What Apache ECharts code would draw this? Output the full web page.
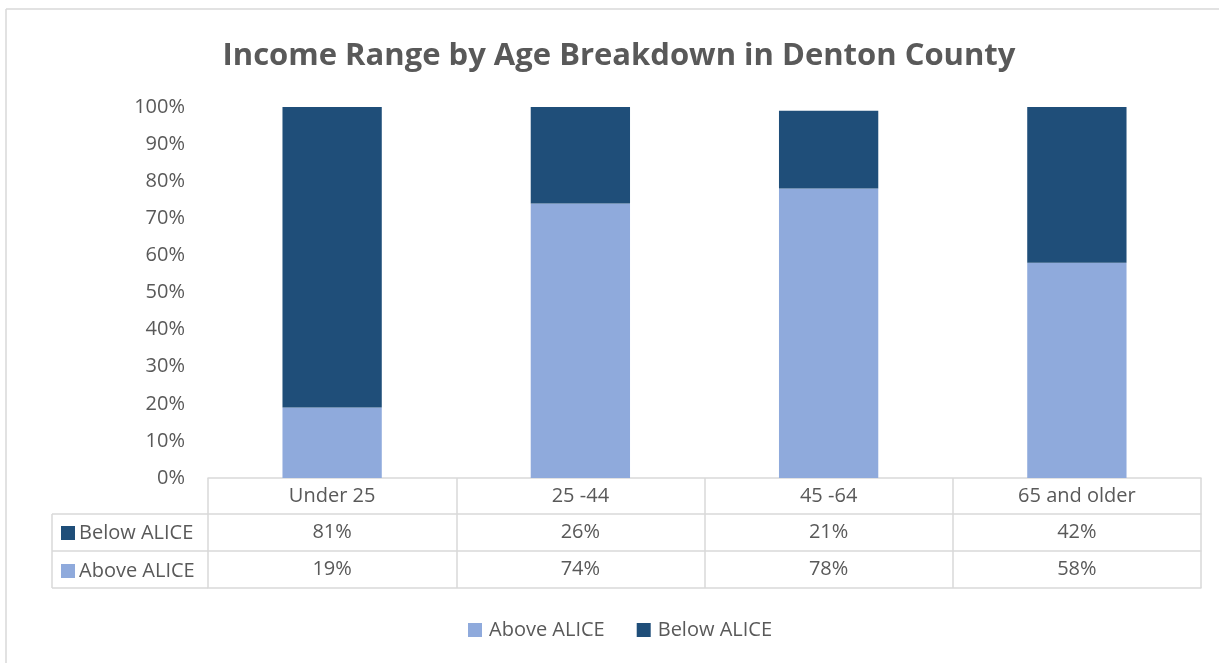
<!DOCTYPE html>
<html>
<head>
<meta charset="utf-8">
<script src="https://cdn.jsdelivr.net/npm/echarts@6/dist/echarts.min.js"></script>
<style>
html,body{margin:0;padding:0;background:#fff;}
#chart{width:1219px;height:663px;}
</style>
</head>
<body>
<div id="chart"></div>
<script>
const categories = ['Under 25', '25 -44', '45 -64', '65 and older'];
const aboveAlice = [19, 74, 78, 58];
const belowAlice = [81, 26, 21, 42];
const yTicks = [0, 10, 20, 30, 40, 50, 60, 70, 80, 90, 100];

const FONT = '"Open Sans", sans-serif';
const FS = 20;
const TXT = '#595959';
const LINE = '#D9D9D9';
const C_ABOVE = '#8FAADC';
const C_BELOW = '#1F4E79';

const chart = echarts.init(document.getElementById('chart'));

const gridLeft = 208, gridRight = 1219 - 1201, gridTop = 107, gridBottom = 663 - 478;

function tableAxis(offset, tickLen, labelFn, showLabel) {
  return {
    type: 'category',
    data: categories,
    position: 'bottom',
    offset: offset,
    gridIndex: 0,
    axisLine: { show: true, lineStyle: { color: LINE, width: 1.5 } },
    axisTick: { show: tickLen > 0, length: tickLen, alignWithLabel: false, lineStyle: { color: LINE, width: 1.5 } },
    axisLabel: {
      show: showLabel,
      color: TXT, fontFamily: FONT, fontSize: FS,
      margin: 8,
      formatter: labelFn
    },
    splitLine: { show: false }
  };
}

const option = {
  backgroundColor: '#fff',
  animation: false,
  title: {
    text: 'Income Range by Age Breakdown in Denton County',
    left: 614, top: 36, textAlign: 'center',
    textStyle: { color: TXT, fontFamily: FONT, fontWeight: 'bold', fontSize: 31 }
  },
  legend: {
    data: ['Above ALICE', 'Below ALICE'],
    top: 615, left: 463,
    itemWidth: 14, itemHeight: 14, itemGap: 32,
    icon: 'rect',
    textStyle: { color: TXT, fontFamily: FONT, fontSize: FS, padding: [0, 0, 0, 2] }
  },
  grid: { left: gridLeft, right: gridRight, top: gridTop, bottom: gridBottom, containLabel: false },
  xAxis: [
    tableAxis(0, 36, v => v, true),
    tableAxis(36, 37, (v, i) => belowAlice[i] + '%', true),
    tableAxis(73, 37, (v, i) => aboveAlice[i] + '%', true),
    tableAxis(110, 0, v => '', false)
  ],
  yAxis: {
    type: 'value', min: 0, max: 100, interval: 10,
    axisLine: { show: false }, axisTick: { show: false },
    splitLine: { show: false },
    axisLabel: { color: TXT, fontFamily: FONT, fontSize: FS, margin: 23, padding: [5, 0, 0, 0], formatter: '{value}%' }
  },
  series: [
    { name: 'Above ALICE', type: 'bar', stack: 'a', xAxisIndex: 0, barWidth: '40%', data: aboveAlice, itemStyle: { color: C_ABOVE } },
    { name: 'Below ALICE', type: 'bar', stack: 'a', xAxisIndex: 0, barWidth: '40%', data: belowAlice, itemStyle: { color: C_BELOW } }
  ],
  graphic: [
    { type: 'line', shape: { x1: 6, y1: 9, x2: 1219, y2: 9 }, style: { stroke: LINE, lineWidth: 1.5 } },
    { type: 'line', shape: { x1: 6, y1: 9, x2: 6, y2: 663 }, style: { stroke: LINE, lineWidth: 1.5 } },
    { type: 'line', shape: { x1: 52, y1: 514, x2: 208, y2: 514 }, style: { stroke: LINE, lineWidth: 1.5 } },
    { type: 'line', shape: { x1: 52, y1: 551, x2: 208, y2: 551 }, style: { stroke: LINE, lineWidth: 1.5 } },
    { type: 'line', shape: { x1: 52, y1: 588, x2: 208, y2: 588 }, style: { stroke: LINE, lineWidth: 1.5 } },
    { type: 'line', shape: { x1: 52, y1: 514, x2: 52, y2: 588 }, style: { stroke: LINE, lineWidth: 1.5 } },
    { type: 'rect', shape: { x: 61, y: 526, width: 14, height: 14 }, style: { fill: C_BELOW } },
    { type: 'text', x: 79, y: 533, style: { text: 'Below ALICE', fill: TXT, font: FS + 'px ' + FONT, textVerticalAlign: 'middle' } },
    { type: 'rect', shape: { x: 61, y: 564, width: 14, height: 14 }, style: { fill: C_ABOVE } },
    { type: 'text', x: 79, y: 571, style: { text: 'Above ALICE', fill: TXT, font: FS + 'px ' + FONT, textVerticalAlign: 'middle' } }
  ]
};
chart.setOption(option);
</script>
</body>
</html>
